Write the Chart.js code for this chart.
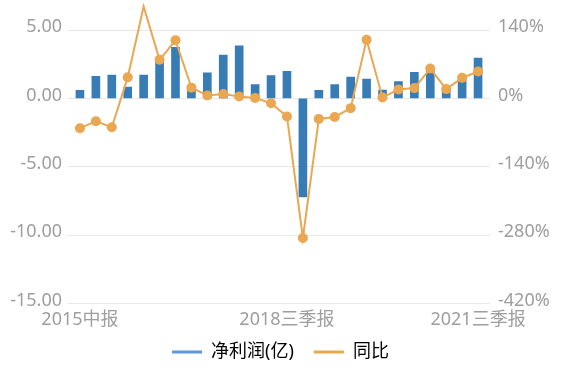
<!DOCTYPE html>
<html>
<head>
<meta charset="utf-8">
<script src="https://cdn.jsdelivr.net/npm/chart.js@4"></script>
<style>
  html, body { margin: 0; padding: 0; background: #fff; }
  #wrap { width: 561px; height: 367px; }
</style>
</head>
<body>
<div id="wrap"><canvas id="profitChart"></canvas></div>
<script>
// 2015中报 .. 2021三季报, quarterly
const periods = [
    '2015中报', '2015三季报', '2015年报',
    '2016一季报', '2016中报', '2016三季报', '2016年报',
    '2017一季报', '2017中报', '2017三季报', '2017年报',
    '2018一季报', '2018中报', '2018三季报', '2018年报',
    '2019一季报', '2019中报', '2019三季报', '2019年报',
    '2020一季报', '2020中报', '2020三季报', '2020年报',
    '2021一季报', '2021中报', '2021三季报'
];
const shownPeriods = ['2015中报', '2018三季报', '2021三季报'];

// 净利润(亿)
const netProfit = [
    0.58, 1.61, 1.71, 0.83, 1.71, 2.75, 3.73, 0.85, 1.86, 3.17, 3.85, 1.0, 1.66,
    1.97, -7.2, 0.58, 1.0, 1.56, 1.42, 0.61, 1.22, 1.9, 2.0, 0.6, 1.6, 2.95
];
// 同比 (%)
const yoy = [
    -61, -47, -59, 43, 188, 79, 119, 22, 6, 9, 4, 1, -10,
    -37, -286, -42, -38, -20, 120, 2, 18, 21, 61, 19, 42, 55
];

const leftTicks = [-15, -10, -5, 0, 5];
const rightTicks = [-420, -280, -140, 0, 140];

const barColor = 'rgb(56, 124, 182)';
const lineColor = 'rgb(234, 167, 82)';
const legendColors = ['rgb(92, 152, 220)', 'rgb(234, 167, 82)'];
const fontFamily = '"Noto Sans", "Noto Sans CJK SC", sans-serif';
const tickGrey = 'rgb(158, 158, 158)';

const ctx = document.getElementById('profitChart').getContext('2d');
new Chart(ctx, {
    type: 'bar',
    data: {
        labels: periods,
        datasets: [{
            label: '净利润(亿)',
            data: netProfit,
            backgroundColor: barColor,
            barThickness: 8,
            yAxisID: 'y',
            order: 2
        }, {
            label: '同比',
            type: 'line',
            data: yoy,
            borderColor: lineColor,
            backgroundColor: lineColor,
            borderWidth: 2,
            pointRadius: 5,
            pointBorderWidth: 0,
            pointBackgroundColor: lineColor,
            tension: 0,
            clip: false,
            yAxisID: 'y1',
            order: 1
        }]
    },
    options: {
        responsive: true,
        maintainAspectRatio: false,
        animation: false,
        layout: { padding: { top: 30, left: 0, right: 0, bottom: -4 } },
        plugins: {
            tooltip: { enabled: false },
            legend: {
                position: 'bottom',
                labels: {
                    boxWidth: 30,
                    boxHeight: 3,
                    padding: 20,
                    color: '#333',
                    font: { size: 18, family: fontFamily },
                    generateLabels: chart => chart.data.datasets.map((ds, i) => ({
                        text: ds.label,
                        fillStyle: legendColors[i],
                        strokeStyle: legendColors[i],
                        lineWidth: 0,
                        hidden: false,
                        datasetIndex: i
                    }))
                }
            }
        },
        scales: {
            x: {
                offset: true,
                grid: { display: false, drawTicks: false },
                border: { display: false },
                ticks: {
                    autoSkip: false,
                    maxRotation: 0,
                    padding: 6,
                    color: tickGrey,
                    font: { size: 18, family: fontFamily },
                    callback: function(value) {
                        const label = this.getLabelForValue(value);
                        return shownPeriods.includes(label) ? label : '';
                    }
                },
                afterBuildTicks: scale => {
                    // a bit more room before the first and after the last bar
                    scale._startValue = -0.75;
                    scale._valueRange = periods.length - 1 + 1.5;
                },
                afterFit: scale => {
                    scale.height = 19.5;
                    // labels hang down into the legend band, don't clip them
                    scale._computeLabelArea = () => null;
                }
            },
            y: {
                position: 'left',
                min: leftTicks[0],
                max: leftTicks[leftTicks.length - 1],
                afterBuildTicks: scale => { scale.ticks = leftTicks.map(v => ({ value: v })); },
                grid: { color: 'rgb(232, 232, 232)', drawTicks: false, lineWidth: 1 },
                border: { display: false },
                ticks: {
                    padding: 6,
                    labelOffset: -3,
                    color: tickGrey,
                    font: { size: 18, family: fontFamily },
                    callback: v => v.toFixed(2)
                },
                afterFit: scale => { scale.width = 68; }
            },
            y1: {
                position: 'right',
                min: rightTicks[0],
                max: rightTicks[rightTicks.length - 1],
                afterBuildTicks: scale => { scale.ticks = rightTicks.map(v => ({ value: v })); },
                grid: { display: false, drawTicks: false },
                border: { display: false },
                ticks: {
                    padding: 8,
                    labelOffset: -3,
                    color: tickGrey,
                    font: { size: 18, family: fontFamily },
                    callback: v => v + '%'
                },
                afterFit: scale => { scale.width = 71; }
            }
        }
    }
});
</script>
</body>
</html>
